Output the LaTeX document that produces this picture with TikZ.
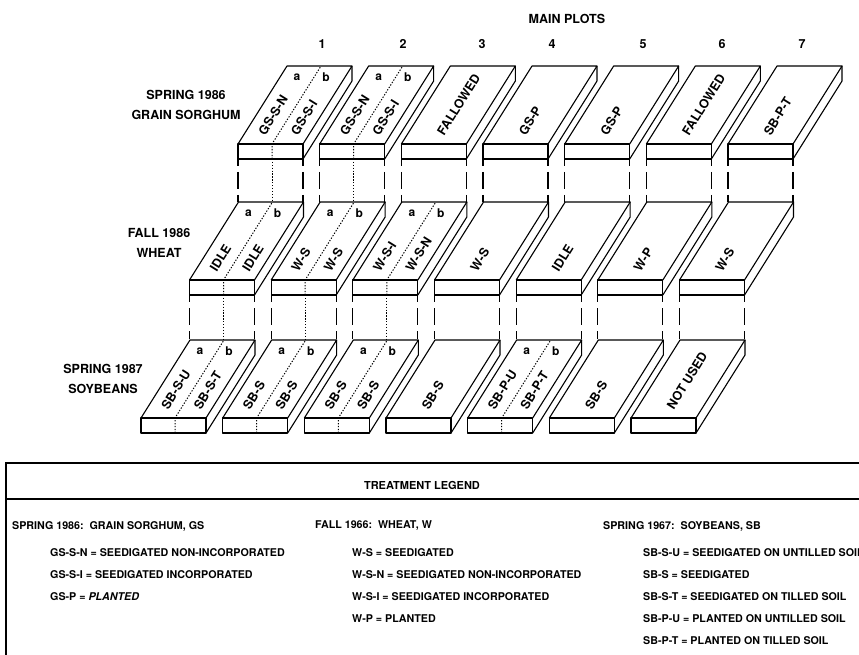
\documentclass[tikz,border=0pt]{standalone}
\usepackage{fontspec}
\setmainfont{TeX Gyre Heros}

\tikzset{
  plotline/.style={line width=1.1pt, line join=round},
  splitline/.style={line width=1pt, dash pattern=on 1.3pt off 1.6pt},
  linkline/.style={line width=1.2pt, dash pattern=on 7pt off 6pt on 17pt off 6pt on 8pt},
  plotlabel/.style={font=\fontsize{12.5}{12.5}\selectfont\bfseries, rotate=58, anchor=west, inner sep=0pt},
  ablabel/.style={font=\fontsize{12}{12}\selectfont\bfseries, inner sep=0pt},
  headlabel/.style={font=\fontsize{12.5}{12.5}\selectfont\bfseries, inner sep=0pt},
  rowlabel/.style={font=\fontsize{12.5}{19.5}\selectfont\bfseries, align=center, inner sep=0pt},
  legendline/.style={line width=1.6pt},
  legendtext/.style={font=\fontsize{10.7}{10.7}\selectfont\bfseries, anchor=west, inner sep=0pt}
}

% box of one plot: front face top left corner
\newcommand{\plotbox}[2]{%
  \draw[plotline] (#1,#2) rectangle ++(65,15);
  \draw[plotline] (#1,#2) -- ++(49,-78) -- ++(65,0) -- ++(-49,78);
  \draw[plotline] (#1+65,#2+15) -- ++(49,-78) -- ++(0,-15);
}
\newcommand{\plotsplit}[2]{%
  \draw[splitline] (#1+34,#2+15) -- ++(0,-15) -- ++(49,-78);
  \node[ablabel] at (#1+59,#2-67) {a};
  \node[ablabel] at (#1+88,#2-67) {b};
}
\newcommand{\plotlink}[3]{%
  \draw[linkline] (#1,#2) -- (#1,#3);
  \draw[linkline] (#1+65,#2) -- (#1+65,#3);
}
\newcommand{\splitlink}[3]{\draw[splitline] (#1+34,#2) -- (#1+34,#3);}

\begin{document}
\begin{tikzpicture}[x=1pt,y=-1pt]
\useasboundingbox (0,0) rectangle (859,655);

\node[headlabel] (mainplots) at (567,19) {MAIN PLOTS};
\foreach \k/\px in {1/322,2/403,3/482,4/552,5/643,6/722,7/802}
  \node[headlabel] (plotnum\k) at (\px,44) {\k};

\node[rowlabel] (spring86) at (186,105) {SPRING 1986\\GRAIN SORGHUM};
\node[rowlabel] (fall86) at (159,243) {FALL 1986\\WHEAT};
\node[rowlabel] (spring87) at (103,379) {SPRING 1987\\SOYBEANS};

\foreach \k in {0,...,6} {
  \plotbox{238+81.67*\k}{144}
  \plotbox{189.5+81.67*\k}{280}
  \plotbox{141+81.67*\k}{418}
  \plotlink{238+81.67*\k}{159}{202}
  \plotlink{189.5+81.67*\k}{295}{340}
}

\foreach \k in {0,1} {
  \plotsplit{238+81.67*\k}{144}
  \splitlink{238+81.67*\k}{159}{202}
}
\foreach \k in {0,1,2} {
  \plotsplit{189.5+81.67*\k}{280}
  \splitlink{189.5+81.67*\k}{295}{340}
}
\foreach \k in {0,1,2,4} {
  \plotsplit{141+81.67*\k}{418}
}

% plot names, spring 1986
\foreach \k/\ta/\tb in {0/GS-S-N/GS-S-I,1/GS-S-N/GS-S-I} {
  \node[plotlabel] (gsa\k) at (238+81.67*\k+23.3,134) {\ta};
  \node[plotlabel] (gsb\k) at (238+81.67*\k+55.8,134) {\tb};
}
\foreach \k/\t in {2/FALLOWED,3/GS-P,4/GS-P,5/FALLOWED,6/SB-P-T}
  \node[plotlabel] (gs\k) at (238+81.67*\k+38.8,134) {\t};

% fall 1986
\foreach \k/\ta/\tb in {0/IDLE/IDLE,1/W-S/W-S,2/W-S-I/W-S-N} {
  \node[plotlabel] (wa\k) at (189.5+81.67*\k+23.3,270) {\ta};
  \node[plotlabel] (wb\k) at (189.5+81.67*\k+55.8,270) {\tb};
}
\foreach \k/\t in {3/W-S,4/IDLE,5/W-P,6/W-S}
  \node[plotlabel] (w\k) at (189.5+81.67*\k+38.8,270) {\t};

% spring 1987
\foreach \k/\ta/\tb in {0/SB-S-U/SB-S-T,1/SB-S/SB-S,2/SB-S/SB-S,4/SB-P-U/SB-P-T} {
  \node[plotlabel] (sba\k) at (141+81.67*\k+23.3,408) {\ta};
  \node[plotlabel] (sbb\k) at (141+81.67*\k+55.8,408) {\tb};
}
\foreach \k/\t in {3/SB-S,5/SB-S,6/NOT USED}
  \node[plotlabel] (sb\k) at (141+81.67*\k+38.8,408) {\t};

% legend
\draw[legendline] (6,655) -- (6,463) -- (859,463);
\draw[legendline] (6,499) -- (859,499);
\node[font=\fontsize{11}{11}\selectfont\bfseries] (legendtitle) at (422,485) {TREATMENT LEGEND};

\node[legendtext] (gshead) at (12,526) {SPRING 1986:~~GRAIN SORGHUM, GS};
\node[legendtext] (gs1) at (50,553) {GS-S-N = SEEDIGATED NON-INCORPORATED};
\node[legendtext] (gs2) at (50,575) {GS-S-I = SEEDIGATED INCORPORATED};
\node[legendtext] (gs3) at (50,597) {GS-P = \textit{PLANTED}};

\node[legendtext] (whead) at (315,526) {FALL 1966:~~WHEAT, W};
\node[legendtext] (w1) at (352,553) {W-S = SEEDIGATED};
\node[legendtext] (w2) at (352,575) {W-S-N = SEEDIGATED NON-INCORPORATED};
\node[legendtext] (w3) at (352,597) {W-S-I = SEEDIGATED INCORPORATED};
\node[legendtext] (w4) at (352,619) {W-P = PLANTED};

\node[legendtext] (sbhead) at (603,526) {SPRING 1967:~~SOYBEANS, SB};
\node[legendtext] (sb1) at (643,553) {SB-S-U = SEEDIGATED ON UNTILLED SOIL};
\node[legendtext] (sb2) at (643,575) {SB-S = SEEDIGATED};
\node[legendtext] (sb3) at (643,597) {SB-S-T = SEEDIGATED ON TILLED SOIL};
\node[legendtext] (sb4) at (643,619) {SB-P-U = PLANTED ON UNTILLED SOIL};
\node[legendtext] (sb5) at (643,641) {SB-P-T = PLANTED ON TILLED SOIL};
\end{tikzpicture}
\end{document}
